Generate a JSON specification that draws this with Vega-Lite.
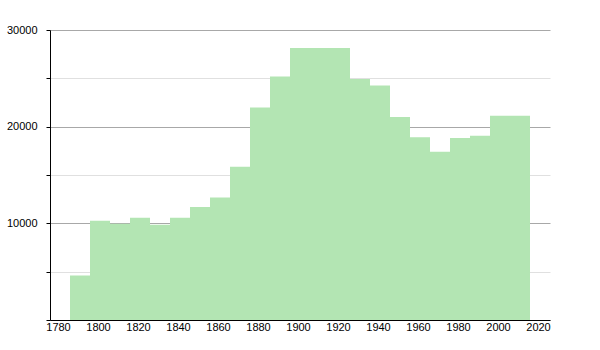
{
  "$schema": "https://vega.github.io/schema/vega-lite/v6.json",
  "width": 500,
  "height": 290,
  "autosize": {"type": "none"},
  "padding": {"left": 50, "top": 30, "right": 50, "bottom": 30},
  "background": "white",
  "config": {"view": {"stroke": null}},
  "data": {
    "values": [
      {"year": 1786, "population": 4600},
      {"year": 1796, "population": 10260},
      {"year": 1806, "population": 9950},
      {"year": 1816, "population": 10570},
      {"year": 1826, "population": 9850},
      {"year": 1836, "population": 10570},
      {"year": 1846, "population": 11700},
      {"year": 1856, "population": 12670},
      {"year": 1866, "population": 15850},
      {"year": 1876, "population": 21970},
      {"year": 1886, "population": 25200},
      {"year": 1896, "population": 28150},
      {"year": 1926, "population": 24940},
      {"year": 1936, "population": 24250},
      {"year": 1946, "population": 21000},
      {"year": 1956, "population": 18900},
      {"year": 1966, "population": 17400},
      {"year": 1976, "population": 18830},
      {"year": 1986, "population": 19070},
      {"year": 1996, "population": 21140},
      {"year": 2016, "population": 21140}
    ]
  },
  "mark": {"type": "area", "interpolate": "step-after", "color": "#b3e5b3", "opacity": 1},
  "encoding": {
    "x": {
      "field": "year",
      "type": "quantitative",
      "scale": {"domain": [1776, 2026], "nice": false, "zero": false},
      "axis": {
        "title": null,
        "values": [1780, 1800, 1820, 1840, 1860, 1880, 1900, 1920, 1940, 1960, 1980, 2000, 2020],
        "format": "d",
        "ticks": false,
        "grid": false,
        "domainColor": "#000000",
        "domainWidth": 1,
        "labelColor": "#000000",
        "labelFont": "Liberation Sans",
        "labelFontSize": 11,
        "labelPadding": 1,
        "labelFlush": false
      }
    },
    "y": {
      "field": "population",
      "type": "quantitative",
      "scale": {"domain": [0, 30000], "nice": false},
      "axis": {
        "title": null,
        "values": [0, 5000, 10000, 15000, 20000, 25000, 30000],
        "format": "d",
        "labelExpr": "datum.value % 10000 === 0 && datum.value > 0 ? datum.label : ''",
        "grid": true,
        "gridColor": {"condition": {"test": "datum.value % 10000 === 0", "value": "#a8a8a8"}, "value": "#e0e0e0"},
        "gridWidth": 1,
        "ticks": true,
        "tickColor": "#000000",
        "tickSize": 4,
        "domainColor": "#000000",
        "domainWidth": 1,
        "labelColor": "#000000",
        "labelFont": "Liberation Sans",
        "labelFontSize": 11,
        "labelPadding": 9,
        "labelFlush": false
      }
    }
  }
}
